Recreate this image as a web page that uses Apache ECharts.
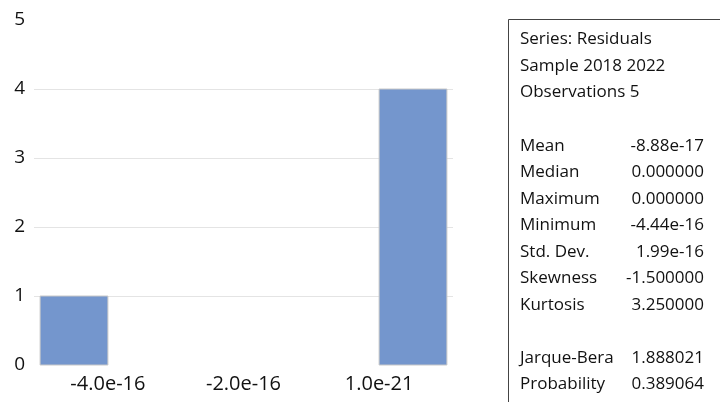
<!DOCTYPE html>
<html>
<head>
<meta charset="utf-8">
<script src="https://cdn.jsdelivr.net/npm/echarts@6/dist/echarts.min.js"></script>
<style>html,body{margin:0;padding:0;background:#fff;}#c{width:720px;height:402px;}</style>
</head>
<body>
<div id="c"></div>
<script>
// Histogram bins (x in units of 1e-16)
const binStarts = [-5, -4, -3, -2, -1, 0];
const binEnds   = [-4, -3, -2, -1, 0, 1];
const counts    = [1, 0, 0, 0, 0, 4];
const xTickValues = [-4, -2, 0];
const xTickLabels = ['-4.0e-16', '-2.0e-16', '1.0e-21'];
const yTicks = [0, 1, 2, 3, 4, 5];

const statHeader = ['Series: Residuals', 'Sample 2018 2022', 'Observations 5'];
const statNames  = ['Mean', 'Median', 'Maximum', 'Minimum', 'Std. Dev.', 'Skewness', 'Kurtosis'];
const statValues = ['-8.88e-17', '0.000000', '0.000000', '-4.44e-16', '1.99e-16', '-1.500000', '3.250000'];
const testNames  = ['Jarque-Bera', 'Probability'];
const testValues = ['1.888021', '0.389064'];

const FONT = '"Open Sans", sans-serif';
const histData = binStarts.map((s, i) => [s, binEnds[i], counts[i]]);

// Stats box rows
const rows = [];
statHeader.forEach(t => rows.push([t, '']));
rows.push(['', '']);
statNames.forEach((t, i) => rows.push([t, statValues[i]]));
rows.push(['', '']);
testNames.forEach((t, i) => rows.push([t, testValues[i]]));

const graphics = [{
  type: 'rect',
  shape: { x: 508.5, y: 19.5, width: 400, height: 500 },
  style: { fill: 'none', stroke: '#444', lineWidth: 1 },
  silent: true
}];
rows.forEach((r, i) => {
  const y = 39.5 + 26.55 * i;
  if (r[0]) graphics.push({ type: 'text', x: 520, y: y, style: { text: r[0], font: '17px ' + FONT, fill: '#111', textVerticalAlign: 'middle', textAlign: 'left' } });
  if (r[1]) graphics.push({ type: 'text', x: 704, y: y, style: { text: r[1], font: '17px ' + FONT, fill: '#111', textVerticalAlign: 'middle', textAlign: 'right' } });
});

const chart = echarts.init(document.getElementById('c'), null, { renderer: 'canvas' });
chart.setOption({
  animation: false,
  backgroundColor: '#fff',
  grid: { left: 34, right: 267, top: 20, bottom: 37, containLabel: false },
  xAxis: {
    type: 'value',
    min: -5.09, max: 1.09,
    axisLine: { show: false },
    axisTick: { show: false },
    splitLine: { show: false },
    axisLabel: {
      customValues: xTickValues,
      formatter: v => { const k = xTickValues.indexOf(v); return k >= 0 ? xTickLabels[k] : ''; },
      fontFamily: FONT, fontSize: 20, color: '#111', margin: 9
    }
  },
  yAxis: {
    type: 'value',
    min: yTicks[0], max: yTicks[yTicks.length - 1], interval: 1,
    axisLine: { show: false },
    axisTick: { show: false },
    splitLine: { show: true, showMinLine: false, showMaxLine: false, lineStyle: { color: '#E4E4E4', width: 1 } },
    axisLabel: { fontFamily: FONT, fontSize: 19, color: '#111', margin: 9, padding: [0, 0, 6, 0] }
  },
  series: [{
    type: 'custom',
    data: histData,
    encode: { x: [0, 1], y: 2 },
    renderItem: (params, api) => {
      const c = api.value(2);
      if (!c) return null;
      const p0 = api.coord([api.value(0), c]);
      const p1 = api.coord([api.value(1), 0]);
      return {
        type: 'rect',
        shape: { x: p0[0], y: p0[1], width: p1[0] - p0[0], height: p1[1] - p0[1] },
        style: { fill: '#7496CD', stroke: '#C8C8C8', lineWidth: 1 }
      };
    }
  }],
  graphic: graphics
});
</script>
</body>
</html>
